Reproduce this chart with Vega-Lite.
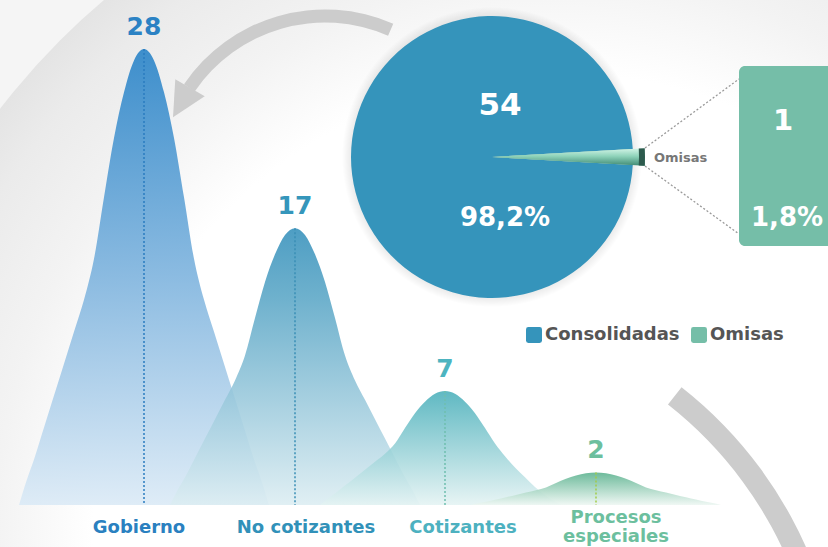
{
  "$schema": "https://vega.github.io/schema/vega-lite/v6.json",
  "width": 828,
  "height": 547,
  "padding": 0,
  "autosize": {"type": "none"},
  "background": "#f5f5f5",
  "config": {"view": {"stroke": null}, "axis": {"disable": true}},
  "datasets": {
    "curvas": [
      {"serie":"Gobierno","x":19,"v":0},{"serie":"Gobierno","x":26,"v":1.4},{"serie":"Gobierno","x":34,"v":2.8},{"serie":"Gobierno","x":44,"v":4.76},{"serie":"Gobierno","x":54,"v":6.72},{"serie":"Gobierno","x":64,"v":8.68},{"serie":"Gobierno","x":74,"v":10.64},{"serie":"Gobierno","x":84,"v":12.6},{"serie":"Gobierno","x":94,"v":15.12},{"serie":"Gobierno","x":104,"v":18.9},{"serie":"Gobierno","x":114,"v":22.54},{"serie":"Gobierno","x":124,"v":25.34},{"serie":"Gobierno","x":134,"v":27.3},{"serie":"Gobierno","x":144,"v":28},{"serie":"Gobierno","x":154,"v":27.3},{"serie":"Gobierno","x":164,"v":25.34},{"serie":"Gobierno","x":174,"v":22.54},{"serie":"Gobierno","x":184,"v":18.9},{"serie":"Gobierno","x":194,"v":15.12},{"serie":"Gobierno","x":204,"v":12.6},{"serie":"Gobierno","x":214,"v":10.64},{"serie":"Gobierno","x":224,"v":8.68},{"serie":"Gobierno","x":234,"v":6.72},{"serie":"Gobierno","x":244,"v":4.76},{"serie":"Gobierno","x":254,"v":2.8},{"serie":"Gobierno","x":262,"v":1.4},{"serie":"Gobierno","x":269,"v":0},
      {"serie":"No cotizantes","x":170,"v":0},{"serie":"No cotizantes","x":177,"v":0.85},{"serie":"No cotizantes","x":185,"v":1.7},{"serie":"No cotizantes","x":195,"v":2.89},{"serie":"No cotizantes","x":205,"v":4.08},{"serie":"No cotizantes","x":215,"v":5.27},{"serie":"No cotizantes","x":225,"v":6.46},{"serie":"No cotizantes","x":235,"v":7.65},{"serie":"No cotizantes","x":245,"v":9.18},{"serie":"No cotizantes","x":255,"v":11.48},{"serie":"No cotizantes","x":265,"v":13.69},{"serie":"No cotizantes","x":275,"v":15.39},{"serie":"No cotizantes","x":285,"v":16.58},{"serie":"No cotizantes","x":295,"v":17},{"serie":"No cotizantes","x":305,"v":16.58},{"serie":"No cotizantes","x":315,"v":15.39},{"serie":"No cotizantes","x":325,"v":13.69},{"serie":"No cotizantes","x":335,"v":11.48},{"serie":"No cotizantes","x":345,"v":9.18},{"serie":"No cotizantes","x":355,"v":7.65},{"serie":"No cotizantes","x":365,"v":6.46},{"serie":"No cotizantes","x":375,"v":5.27},{"serie":"No cotizantes","x":385,"v":4.08},{"serie":"No cotizantes","x":395,"v":2.89},{"serie":"No cotizantes","x":405,"v":1.7},{"serie":"No cotizantes","x":413,"v":0.85},{"serie":"No cotizantes","x":420,"v":0},
      {"serie":"Cotizantes","x":320,"v":0},{"serie":"Cotizantes","x":327,"v":0.35},{"serie":"Cotizantes","x":335,"v":0.7},{"serie":"Cotizantes","x":345,"v":1.19},{"serie":"Cotizantes","x":355,"v":1.68},{"serie":"Cotizantes","x":365,"v":2.17},{"serie":"Cotizantes","x":375,"v":2.66},{"serie":"Cotizantes","x":385,"v":3.15},{"serie":"Cotizantes","x":395,"v":3.78},{"serie":"Cotizantes","x":405,"v":4.73},{"serie":"Cotizantes","x":415,"v":5.64},{"serie":"Cotizantes","x":425,"v":6.34},{"serie":"Cotizantes","x":435,"v":6.83},{"serie":"Cotizantes","x":445,"v":7},{"serie":"Cotizantes","x":455,"v":6.83},{"serie":"Cotizantes","x":465,"v":6.34},{"serie":"Cotizantes","x":475,"v":5.64},{"serie":"Cotizantes","x":485,"v":4.73},{"serie":"Cotizantes","x":495,"v":3.78},{"serie":"Cotizantes","x":505,"v":3.0},{"serie":"Cotizantes","x":515,"v":2.3},{"serie":"Cotizantes","x":525,"v":1.7},{"serie":"Cotizantes","x":535,"v":1.1},{"serie":"Cotizantes","x":545,"v":0.6},{"serie":"Cotizantes","x":553,"v":0.28},{"serie":"Cotizantes","x":562,"v":0},
      {"serie":"Procesos especiales","x":471,"v":0},{"serie":"Procesos especiales","x":478,"v":0.1},{"serie":"Procesos especiales","x":486,"v":0.2},{"serie":"Procesos especiales","x":496,"v":0.34},{"serie":"Procesos especiales","x":506,"v":0.48},{"serie":"Procesos especiales","x":516,"v":0.62},{"serie":"Procesos especiales","x":526,"v":0.76},{"serie":"Procesos especiales","x":536,"v":0.9},{"serie":"Procesos especiales","x":546,"v":1.08},{"serie":"Procesos especiales","x":556,"v":1.35},{"serie":"Procesos especiales","x":566,"v":1.61},{"serie":"Procesos especiales","x":576,"v":1.81},{"serie":"Procesos especiales","x":586,"v":1.95},{"serie":"Procesos especiales","x":596,"v":2},{"serie":"Procesos especiales","x":606,"v":1.95},{"serie":"Procesos especiales","x":616,"v":1.81},{"serie":"Procesos especiales","x":626,"v":1.61},{"serie":"Procesos especiales","x":636,"v":1.35},{"serie":"Procesos especiales","x":646,"v":1.08},{"serie":"Procesos especiales","x":656,"v":0.9},{"serie":"Procesos especiales","x":666,"v":0.76},{"serie":"Procesos especiales","x":676,"v":0.62},{"serie":"Procesos especiales","x":686,"v":0.48},{"serie":"Procesos especiales","x":696,"v":0.34},{"serie":"Procesos especiales","x":706,"v":0.2},{"serie":"Procesos especiales","x":714,"v":0.1},{"serie":"Procesos especiales","x":721,"v":0}
    ],
    "categorias": [
      {"cat":"Gobierno","xc":144,"n":28},
      {"cat":"No cotizantes","xc":295,"n":17},
      {"cat":"Cotizantes","xc":445,"n":7},
      {"cat":"Procesos especiales","xc":596,"n":2}
    ],
    "etiquetas": [
      {"cat":"Gobierno","lx":139,"texto":"Gobierno"},
      {"cat":"No cotizantes","lx":306,"texto":"No cotizantes"},
      {"cat":"Cotizantes","lx":463,"texto":"Cotizantes"},
      {"cat":"Procesos especiales","lx":616,"texto":["Procesos","especiales"]}
    ],
    "torta": [
      {"estado":"Consolidadas","n":54,"pct":"98,2%","cx":492,"cy":157},
      {"estado":"Omisas","n":1,"pct":"1,8%","cx":492,"cy":157}
    ],
    "fondo": [{"cx":558,"cy":538}],
    "arco_inf": [{"cx":423,"cy":717}],
    "flecha": [{"cx":325,"cy":180}],
    "punta": [{"x":181.5,"y":102.5}],
    "caja": [{"x0":739,"x1":850,"y0":66,"y1":246}],
    "guias": [
      {"x0":645,"y0":148,"x1":739,"y1":79},
      {"x0":645,"y0":166,"x1":739,"y1":234}
    ]
  },
  "resolve": {"scale": {"y": "independent", "color": "independent"}},
  "layer": [
    {
      "data": {"name": "fondo"},
      "mark": {"type": "arc", "theta": 0, "theta2": 6.2832, "innerRadius": 0, "outerRadius": 704,
        "fill": {"gradient": "radial", "x1": 0.5, "y1": 0.5, "r1": 0, "x2": 0.5, "y2": 0.5, "r2": 0.5,
          "stops": [{"offset": 0, "color": "#ffffff"}, {"offset": 0.66, "color": "#ffffff"}, {"offset": 0.8, "color": "#f3f3f3"}, {"offset": 0.93, "color": "#ebebeb"}, {"offset": 1, "color": "#e4e4e4"}]}},
      "encoding": {
        "x": {"field": "cx", "type": "quantitative", "scale": {"domain": [0, 828], "nice": false, "zero": false}},
        "y": {"field": "cy", "type": "quantitative", "scale": {"domain": [547, 0], "nice": false, "zero": false}}
      }
    },
    {
      "data": {"name": "arco_inf"},
      "mark": {"type": "arc", "theta": 0.665, "theta2": 1.75, "innerRadius": 397, "outerRadius": 419, "fill": "#cccccc"},
      "encoding": {
        "x": {"field": "cx", "type": "quantitative", "scale": {"domain": [0, 828], "nice": false, "zero": false}},
        "y": {"field": "cy", "type": "quantitative", "scale": {"domain": [547, 0], "nice": false, "zero": false}}
      }
    },
    {
      "data": {"name": "flecha"},
      "mark": {"type": "arc", "theta": -0.974, "theta2": 0.412, "innerRadius": 157.5, "outerRadius": 170.5, "fill": "#cccccc"},
      "encoding": {
        "x": {"field": "cx", "type": "quantitative", "scale": {"domain": [0, 828], "nice": false, "zero": false}},
        "y": {"field": "cy", "type": "quantitative", "scale": {"domain": [547, 0], "nice": false, "zero": false}}
      }
    },
    {
      "data": {"name": "punta"},
      "mark": {"type": "point", "shape": "M0,-1L1,1L-1,1Z", "size": 1156, "angle": 210, "filled": true, "fill": "#cccccc", "opacity": 1, "strokeWidth": 0},
      "encoding": {
        "x": {"field": "x", "type": "quantitative", "scale": {"domain": [0, 828], "nice": false, "zero": false}},
        "y": {"field": "y", "type": "quantitative", "scale": {"domain": [547, 0], "nice": false, "zero": false}}
      }
    },
    {
      "data": {"name": "curvas"},
      "transform": [{"filter": "datum.serie === 'Gobierno'"}],
      "mark": {"type": "area", "interpolate": "monotone", "fillOpacity": 0.9,
        "fill": {"gradient": "linear", "x1": 0, "y1": 0, "x2": 0, "y2": 1,
          "stops": [{"offset": 0, "color": "#2a84c8"}, {"offset": 0.5, "color": "#7fb4de"}, {"offset": 1, "color": "#dbeaf6"}]}},
      "encoding": {
        "x": {"field": "x", "type": "quantitative", "scale": {"domain": [0, 828], "nice": false, "zero": false}},
        "y": {"field": "v", "type": "quantitative", "scale": {"domain": [-2.579, 31.01], "nice": false, "zero": false}}
      }
    },
    {
      "data": {"name": "curvas"},
      "transform": [{"filter": "datum.serie === 'No cotizantes'"}],
      "mark": {"type": "area", "interpolate": "monotone", "fillOpacity": 0.88,
        "fill": {"gradient": "linear", "x1": 0, "y1": 0, "x2": 0, "y2": 1,
          "stops": [{"offset": 0, "color": "#3590bb"}, {"offset": 0.25, "color": "#5aa6c6"}, {"offset": 1, "color": "#dcedf2"}]}},
      "encoding": {
        "x": {"field": "x", "type": "quantitative", "scale": {"domain": [0, 828], "nice": false, "zero": false}},
        "y": {"field": "v", "type": "quantitative", "scale": {"domain": [-2.579, 31.01], "nice": false, "zero": false}}
      }
    },
    {
      "data": {"name": "curvas"},
      "transform": [{"filter": "datum.serie === 'Cotizantes'"}],
      "mark": {"type": "area", "interpolate": "monotone", "fillOpacity": 0.88,
        "fill": {"gradient": "linear", "x1": 0, "y1": 0, "x2": 0, "y2": 1,
          "stops": [{"offset": 0, "color": "#49afba"}, {"offset": 1, "color": "#e4f3f3"}]}},
      "encoding": {
        "x": {"field": "x", "type": "quantitative", "scale": {"domain": [0, 828], "nice": false, "zero": false}},
        "y": {"field": "v", "type": "quantitative", "scale": {"domain": [-2.579, 31.01], "nice": false, "zero": false}}
      }
    },
    {
      "data": {"name": "curvas"},
      "transform": [{"filter": "datum.serie === 'Procesos especiales'"}],
      "mark": {"type": "area", "interpolate": "monotone", "fillOpacity": 0.9,
        "fill": {"gradient": "linear", "x1": 0, "y1": 0, "x2": 0, "y2": 1,
          "stops": [{"offset": 0, "color": "#5db390"}, {"offset": 1, "color": "#eef7f3"}]}},
      "encoding": {
        "x": {"field": "x", "type": "quantitative", "scale": {"domain": [0, 828], "nice": false, "zero": false}},
        "y": {"field": "v", "type": "quantitative", "scale": {"domain": [-2.579, 31.01], "nice": false, "zero": false}}
      }
    },
    {
      "data": {"name": "categorias"},
      "mark": {"type": "rule", "strokeDash": [2, 2], "strokeWidth": 1.5},
      "encoding": {
        "x": {"field": "xc", "type": "quantitative", "scale": {"domain": [0, 828], "nice": false, "zero": false}},
        "y": {"field": "n", "type": "quantitative", "scale": {"domain": [-2.579, 31.01], "nice": false, "zero": false}},
        "y2": {"datum": 0},
        "color": {"field": "cat", "type": "nominal", "legend": null,
          "scale": {"domain": ["Gobierno", "No cotizantes", "Cotizantes", "Procesos especiales"], "range": ["#2a7cc0", "#3a8fb5", "#6fbfae", "#a3cc48"]}}
      }
    },
    {
      "data": {"name": "categorias"},
      "mark": {"type": "text", "dy": -14, "baseline": "alphabetic", "align": "center", "font": "DejaVu Sans", "fontWeight": "bold", "fontSize": 25},
      "encoding": {
        "x": {"field": "xc", "type": "quantitative", "scale": {"domain": [0, 828], "nice": false, "zero": false}},
        "y": {"field": "n", "type": "quantitative", "scale": {"domain": [-2.579, 31.01], "nice": false, "zero": false}},
        "text": {"field": "n", "type": "quantitative"},
        "color": {"field": "cat", "type": "nominal", "legend": null,
          "scale": {"domain": ["Gobierno", "No cotizantes", "Cotizantes", "Procesos especiales"], "range": ["#2b82c4", "#3596bb", "#4db4c0", "#6cbf9e"]}}
      }
    },
    {
      "data": {"name": "etiquetas"},
      "transform": [{"filter": "datum.cat !== 'Procesos especiales'"}],
      "mark": {"type": "text", "dy": 23, "baseline": "middle", "align": "center", "font": "DejaVu Sans", "fontWeight": "bold", "fontSize": 18},
      "encoding": {
        "x": {"field": "lx", "type": "quantitative", "scale": {"domain": [0, 828], "nice": false, "zero": false}},
        "y": {"datum": 0, "type": "quantitative", "scale": {"domain": [-2.579, 31.01], "nice": false, "zero": false}},
        "text": {"field": "texto"},
        "color": {"field": "cat", "type": "nominal", "legend": null,
          "scale": {"domain": ["Gobierno", "No cotizantes", "Cotizantes", "Procesos especiales"], "range": ["#2a80c0", "#3191b9", "#4db1c0", "#6cbf9e"]}}
      }
    },
    {
      "data": {"name": "etiquetas"},
      "transform": [{"filter": "datum.cat === 'Procesos especiales'"}],
      "mark": {"type": "text", "dy": 18, "baseline": "alphabetic", "align": "center", "font": "DejaVu Sans", "fontWeight": "bold", "fontSize": 18, "lineHeight": 19, "color": "#6cbf9e"},
      "encoding": {
        "x": {"field": "lx", "type": "quantitative", "scale": {"domain": [0, 828], "nice": false, "zero": false}},
        "y": {"datum": 0, "type": "quantitative", "scale": {"domain": [-2.579, 31.01], "nice": false, "zero": false}},
        "text": {"field": "texto"}
      }
    },
    {
      "data": {"name": "torta"},
      "transform": [{"filter": "datum.estado === 'Consolidadas'"}],
      "mark": {"type": "arc", "theta": 0, "theta2": 6.2832, "innerRadius": 0, "outerRadius": 150,
        "fill": {"gradient": "radial", "x1": 0.5, "y1": 0.5, "r1": 0, "x2": 0.5, "y2": 0.5, "r2": 0.5,
          "stops": [{"offset": 0, "color": "rgba(0,0,0,0.14)"}, {"offset": 0.92, "color": "rgba(0,0,0,0.10)"}, {"offset": 1, "color": "rgba(0,0,0,0)"}]}},
      "encoding": {
        "x": {"field": "cx", "type": "quantitative", "scale": {"domain": [0, 828], "nice": false, "zero": false}},
        "y": {"field": "cy", "type": "quantitative", "scale": {"domain": [547, 0], "nice": false, "zero": false}}
      }
    },
    {
      "data": {"name": "torta"},
      "mark": {"type": "arc", "outerRadius": 141},
      "encoding": {
        "theta": {"field": "n", "type": "quantitative", "stack": true, "scale": {"range": [-4.6553, 1.6279]}},
        "order": {"field": "estado", "type": "ordinal", "sort": "ascending"},
        "x": {"field": "cx", "type": "quantitative", "scale": {"domain": [0, 828], "nice": false, "zero": false}},
        "y": {"field": "cy", "type": "quantitative", "scale": {"domain": [547, 0], "nice": false, "zero": false}},
        "color": {"field": "estado", "type": "nominal",
          "scale": {"domain": ["Consolidadas", "Omisas"], "range": ["#3594bb", "#75bea8"]},
          "legend": {"orient": "none", "legendX": 525, "legendY": 326, "direction": "horizontal", "title": null,
            "symbolType": "M-0.7,-1H0.7Q1,-1 1,-0.7V0.7Q1,1 0.7,1H-0.7Q-1,1 -1,0.7V-0.7Q-1,-1 -0.7,-1Z",
            "symbolSize": 256, "symbolStrokeWidth": 0, "symbolOpacity": 1,
            "labelFont": "DejaVu Sans", "labelFontWeight": "bold", "labelFontSize": 18, "labelColor": "#555555",
            "labelOffset": 2, "columnPadding": 10}}
      }
    },
    {
      "data": {"name": "torta"},
      "mark": {"type": "arc", "outerRadius": 153,
        "fill": {"gradient": "linear", "x1": 0, "y1": 0, "x2": 0, "y2": 1,
          "stops": [{"offset": 0, "color": "#d4f5e8"}, {"offset": 0.45, "color": "#8fd3ba"}, {"offset": 1, "color": "#3f8a74"}]}},
      "encoding": {
        "theta": {"field": "n", "type": "quantitative", "stack": true, "scale": {"range": [-4.6553, 1.6279]}},
        "order": {"field": "estado", "type": "ordinal", "sort": "ascending"},
        "detail": {"field": "estado"},
        "x": {"field": "cx", "type": "quantitative", "scale": {"domain": [0, 828], "nice": false, "zero": false}},
        "y": {"field": "cy", "type": "quantitative", "scale": {"domain": [547, 0], "nice": false, "zero": false}},
        "opacity": {"condition": {"test": "datum.estado === 'Omisas'", "value": 1}, "value": 0}
      }
    },
    {
      "data": {"name": "torta"},
      "mark": {"type": "arc", "innerRadius": 147, "outerRadius": 153, "fill": "#2d5a4d"},
      "encoding": {
        "theta": {"field": "n", "type": "quantitative", "stack": true, "scale": {"range": [-4.6553, 1.6279]}},
        "order": {"field": "estado", "type": "ordinal", "sort": "ascending"},
        "detail": {"field": "estado"},
        "x": {"field": "cx", "type": "quantitative", "scale": {"domain": [0, 828], "nice": false, "zero": false}},
        "y": {"field": "cy", "type": "quantitative", "scale": {"domain": [547, 0], "nice": false, "zero": false}},
        "opacity": {"condition": {"test": "datum.estado === 'Omisas'", "value": 1}, "value": 0}
      }
    },
    {
      "data": {"name": "caja"},
      "mark": {"type": "rect", "cornerRadius": 6, "fill": "#75bea8"},
      "encoding": {
        "x": {"field": "x0", "type": "quantitative", "scale": {"domain": [0, 828], "nice": false, "zero": false}},
        "x2": {"field": "x1"},
        "y": {"field": "y0", "type": "quantitative", "scale": {"domain": [547, 0], "nice": false, "zero": false}},
        "y2": {"field": "y1"}
      }
    },
    {
      "data": {"name": "guias"},
      "mark": {"type": "rule", "strokeDash": [2, 2], "strokeWidth": 1.3, "stroke": "#9a9a9a"},
      "encoding": {
        "x": {"field": "x0", "type": "quantitative", "scale": {"domain": [0, 828], "nice": false, "zero": false}},
        "x2": {"field": "x1"},
        "y": {"field": "y0", "type": "quantitative", "scale": {"domain": [547, 0], "nice": false, "zero": false}},
        "y2": {"field": "y1"}
      }
    },
    {
      "data": {"name": "torta"},
      "transform": [{"filter": "datum.estado === 'Consolidadas'"}],
      "mark": {"type": "text", "dx": 8, "dy": -42, "align": "center", "baseline": "alphabetic", "font": "DejaVu Sans", "fontWeight": "bold", "fontSize": 31, "color": "#ffffff"},
      "encoding": {
        "x": {"field": "cx", "type": "quantitative", "scale": {"domain": [0, 828], "nice": false, "zero": false}},
        "y": {"field": "cy", "type": "quantitative", "scale": {"domain": [547, 0], "nice": false, "zero": false}},
        "text": {"field": "n", "type": "quantitative"}
      }
    },
    {
      "data": {"name": "torta"},
      "transform": [{"filter": "datum.estado === 'Consolidadas'"}],
      "mark": {"type": "text", "dx": 13, "dy": 69, "align": "center", "baseline": "alphabetic", "font": "DejaVu Sans", "fontWeight": "bold", "fontSize": 26, "color": "#ffffff"},
      "encoding": {
        "x": {"field": "cx", "type": "quantitative", "scale": {"domain": [0, 828], "nice": false, "zero": false}},
        "y": {"field": "cy", "type": "quantitative", "scale": {"domain": [547, 0], "nice": false, "zero": false}},
        "text": {"field": "pct"}
      }
    },
    {
      "data": {"name": "torta"},
      "transform": [{"filter": "datum.estado === 'Omisas'"}],
      "mark": {"type": "text", "dx": 291, "dy": -27, "align": "center", "baseline": "alphabetic", "font": "DejaVu Sans", "fontWeight": "bold", "fontSize": 29, "color": "#ffffff"},
      "encoding": {
        "x": {"field": "cx", "type": "quantitative", "scale": {"domain": [0, 828], "nice": false, "zero": false}},
        "y": {"field": "cy", "type": "quantitative", "scale": {"domain": [547, 0], "nice": false, "zero": false}},
        "text": {"field": "n", "type": "quantitative"}
      }
    },
    {
      "data": {"name": "torta"},
      "transform": [{"filter": "datum.estado === 'Omisas'"}],
      "mark": {"type": "text", "dx": 295, "dy": 69, "align": "center", "baseline": "alphabetic", "font": "DejaVu Sans", "fontWeight": "bold", "fontSize": 26, "color": "#ffffff"},
      "encoding": {
        "x": {"field": "cx", "type": "quantitative", "scale": {"domain": [0, 828], "nice": false, "zero": false}},
        "y": {"field": "cy", "type": "quantitative", "scale": {"domain": [547, 0], "nice": false, "zero": false}},
        "text": {"field": "pct"}
      }
    },
    {
      "data": {"name": "torta"},
      "transform": [{"filter": "datum.estado === 'Omisas'"}],
      "mark": {"type": "text", "dx": 162, "dy": 5, "align": "left", "baseline": "alphabetic", "font": "DejaVu Sans", "fontWeight": "bold", "fontSize": 13, "color": "#777777"},
      "encoding": {
        "x": {"field": "cx", "type": "quantitative", "scale": {"domain": [0, 828], "nice": false, "zero": false}},
        "y": {"field": "cy", "type": "quantitative", "scale": {"domain": [547, 0], "nice": false, "zero": false}},
        "text": {"field": "estado"}
      }
    }
  ]
}
